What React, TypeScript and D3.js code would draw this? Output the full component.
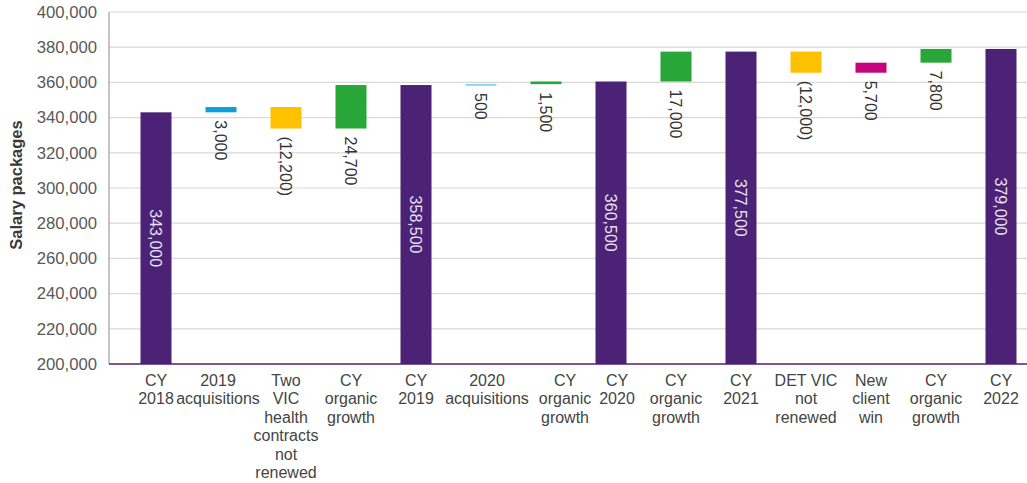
import React from "react";
import * as d3 from "d3";

const categories: string[][] = [
  ["CY", "2018"],
  ["2019", "acquisitions"],
  ["Two", "VIC", "health", "contracts", "not", "renewed"],
  ["CY", "organic", "growth"],
  ["CY", "2019"],
  ["2020", "acquisitions"],
  ["CY", "organic", "growth"],
  ["CY", "2020"],
  ["CY", "organic", "growth"],
  ["CY", "2021"],
  ["DET VIC", "not", "renewed"],
  ["New", "client", "win"],
  ["CY", "organic", "growth"],
  ["CY", "2022"],
];

const values: number[] = [
  343000, 3000, -12200, 24700, 358500, 500, 1500, 360500, 17000, 377500, -12000, 5700, 7800, 379000,
];

const kinds: string[] = [
  "total", "acq", "loss", "organic", "total", "acq2", "organic", "total", "organic", "total", "loss", "win", "organic", "total",
];

const yTicks: number[] = [200000, 220000, 240000, 260000, 280000, 300000, 320000, 340000, 360000, 380000, 400000];

const colorByKind: Record<string, string> = {
  total: "#4b2275",
  acq: "#0b9fde",
  acq2: "#6dcff6",
  loss: "#fdc100",
  organic: "#28a738",
  win: "#c4037c",
};

const labelNudge: Record<number, number> = { 1: -3, 5: 6, 6: 19, 7: 6 };

const W = 1027;
const H = 483;
const FONT = "'Liberation Sans', Arial, Helvetica, sans-serif";

export default function App() {
  const y = d3.scaleLinear().domain([200000, 400000]).range([364, 12]);
  const x = d3
    .scaleBand<number>()
    .domain(d3.range(categories.length))
    .range([123.5, 1033.5])
    .paddingInner(0.523)
    .paddingOuter(0.2615);
  const fmt = d3.format(",");

  let running = 0;
  const bars = values.map((v, i) => {
    const kind = kinds[i];
    let lo: number, hi: number;
    if (kind === "total") {
      running = v;
      lo = 200000;
      hi = v;
    } else {
      const start = running;
      running = start + v;
      lo = Math.min(start, running);
      hi = Math.max(start, running);
    }
    return { i, v, kind, lo, hi };
  });

  const x0 = 109;
  const x1 = W;

  return (
    <svg
      width={W}
      height={H}
      style={{ position: "absolute", left: 0, top: 0, background: "#fff" }}
      fontFamily={FONT}
    >
      {yTicks
        .filter((t) => t > 200000)
        .map((t) => (
          <line key={t} x1={x0} x2={x1} y1={y(t)} y2={y(t)} stroke="#d9d9d9" strokeWidth={1.2} />
        ))}
      <line x1={x0} x2={x0} y1={y(400000)} y2={y(200000)} stroke="#8c8c8c" strokeWidth={1} />
      {yTicks.map((t) => (
        <text key={t} x={97} y={y(t)} dy="0.35em" textAnchor="end" fontSize={16.7} fill="#595959">
          {fmt(t)}
        </text>
      ))}
      <text
        transform={`translate(22,${185}) rotate(-90)`}
        textAnchor="middle"
        fontSize={16.5}
        fontWeight="bold"
        fill="#3a3a3a"
      >
        Salary packages
      </text>
      {bars.map((b) => {
        const bx = x(b.i)!;
        const bw = x.bandwidth();
        const top = y(b.hi);
        const bottom = y(b.lo);
        const h = Math.max(bottom - top, 1.5);
        return <rect key={b.i} x={bx} y={top} width={bw} height={h} fill={colorByKind[b.kind]} />;
      })}
      <line x1={x0} x2={x1} y1={y(200000)} y2={y(200000)} stroke="#4b2275" strokeWidth={1.5} />
      {bars.map((b) => {
        const cx = x(b.i)! + x.bandwidth() / 2;
        const label = b.v < 0 ? `(${fmt(-b.v)})` : fmt(b.v);
        if (b.kind === "total") {
          const mid = (y(b.hi) + y(b.lo)) / 2;
          return (
            <text
              key={b.i}
              transform={`translate(${cx},${mid}) rotate(90)`}
              textAnchor="middle"
              dy="0.35em"
              fontSize={16}
              fill="#e8e2f2"
            >
              {label}
            </text>
          );
        }
        const start = y(b.lo) + 8;
        return (
          <text
            key={b.i}
            transform={`translate(${cx},${start}) rotate(90)`}
            textAnchor="start"
            dy="0.35em"
            fontSize={16}
            fill="#333333"
          >
            {label}
          </text>
        );
      })}
      {categories.map((lines, i) => {
        const cx = x(i)! + x.bandwidth() / 2 + (labelNudge[i] || 0);
        return (
          <text key={i} x={cx} y={386} textAnchor="middle" fontSize={16} fill="#444444">
            {lines.map((ln, j) => (
              <tspan key={j} x={cx} dy={j === 0 ? 0 : 18.4}>
                {ln}
              </tspan>
            ))}
          </text>
        );
      })}
    </svg>
  );
}
